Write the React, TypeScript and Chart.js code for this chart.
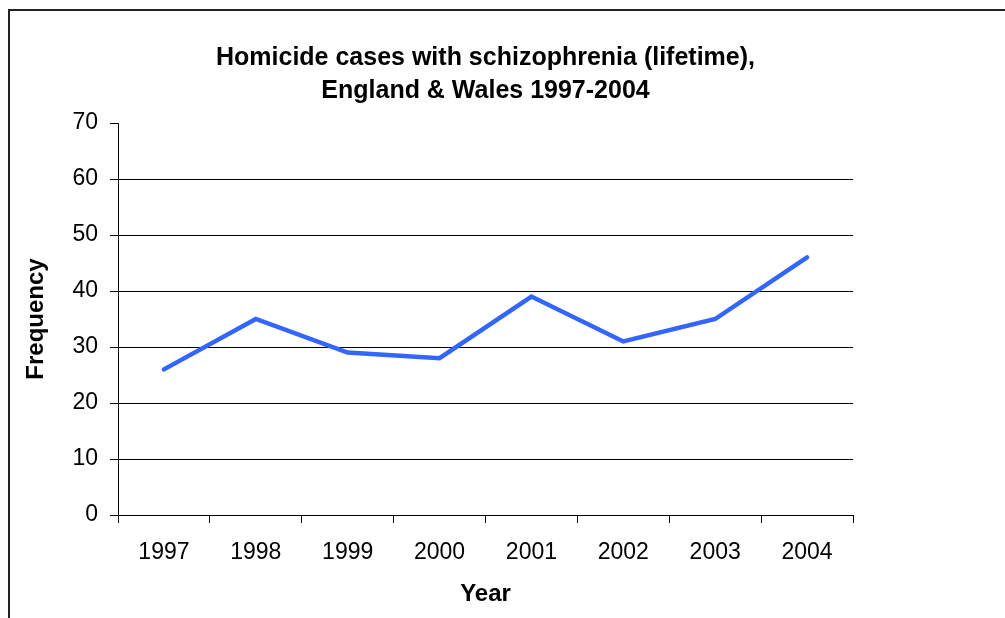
import React, { useEffect, useRef } from "react";
import { Chart, registerables } from "chart.js";

Chart.register(...registerables);

const years: string[] = ["1997", "1998", "1999", "2000", "2001", "2002", "2003", "2004"];
const frequency: number[] = [26, 35, 29, 28, 39, 31, 35, 46];
const titleLines: string[] = ["Homicide cases with schizophrenia (lifetime),", "England & Wales 1997-2004"];
const yTitle = "Frequency";
const xTitle = "Year";
const yMin = 0;
const yMax = 70;
const yStep = 10;

const FONT = "'Liberation Sans', Arial, sans-serif";

export default function App() {
  const ref = useRef<HTMLCanvasElement | null>(null);

  useEffect(() => {
    const canvas = ref.current;
    if (!canvas) return;
    const chart = new Chart(canvas, {
      type: "line",
      data: {
        labels: years,
        datasets: [
          {
            data: frequency,
            borderColor: "#3366FF",
            backgroundColor: "#3366FF",
            borderWidth: 4.5,
            pointRadius: 0,
            pointHoverRadius: 0,
            tension: 0,
            borderCapStyle: "round",
            borderJoinStyle: "miter",
            fill: false,
          },
        ],
      },
      options: {
        animation: false,
        responsive: false,
        maintainAspectRatio: false,
        layout: { padding: { left: 10, right: 152, top: 42, bottom: 0 } },
        plugins: {
          legend: { display: false },
          tooltip: { enabled: false },
          title: {
            display: true,
            text: titleLines,
            color: "#000",
            fullSize: false,
            font: { family: FONT, size: 25, weight: "bold", lineHeight: 1.32 },
            padding: { top: 0, bottom: 15 },
          },
        },
        scales: {
          x: {
            type: "category",
            offset: true,
            grid: {
              offset: true,
              drawOnChartArea: false,
              drawTicks: true,
              tickLength: 8,
              color: "#000",
              tickColor: "#000",
              lineWidth: 1,
            },
            border: { display: true, color: "#000", width: 1 },
            ticks: {
              color: "#000",
              padding: 16,
              maxRotation: 0,
              autoSkip: false,
              font: { family: FONT, size: 23, lineHeight: 1.2 },
            },
            title: {
              display: true,
              text: xTitle,
              color: "#000",
              font: { family: FONT, size: 24, weight: "bold", lineHeight: 1.2 },
              padding: { top: 0, bottom: 9 },
            },
            afterFit: (scale: any) => {
              scale.height = 103;
            },
          },
          y: {
            min: yMin,
            max: yMax,
            ticks: {
              stepSize: yStep,
              color: "#000",
              padding: 12,
              font: { family: FONT, size: 23, lineHeight: 1.2 },
            },
            grid: {
              drawTicks: true,
              tickLength: 8,
              lineWidth: 1,
              color: (ctx: any) => (ctx.tick && ctx.tick.value === yMax ? "rgba(0,0,0,0)" : "#000"),
              tickColor: "#000",
            },
            border: { display: true, color: "#000", width: 1 },
            title: {
              display: true,
              text: yTitle,
              color: "#000",
              font: { family: FONT, size: 24, weight: "bold", lineHeight: 1.2 },
              padding: { top: 12, bottom: 0 },
            },
            afterFit: (scale: any) => {
              scale.width = 108;
            },
          },
        },
      },
    });
    return () => chart.destroy();
  }, []);

  return (
    <div>
      <div
        style={{
          position: "fixed",
          left: 8,
          top: 9,
          width: 1100,
          height: 700,
          border: "2px solid #222",
          boxSizing: "border-box",
          background: "#fff",
        }}
      />
      <canvas
        ref={ref}
        width={1005}
        height={618}
        style={{ position: "fixed", left: 0, top: 0, width: 1005, height: 618 }}
      />
    </div>
  );
}
